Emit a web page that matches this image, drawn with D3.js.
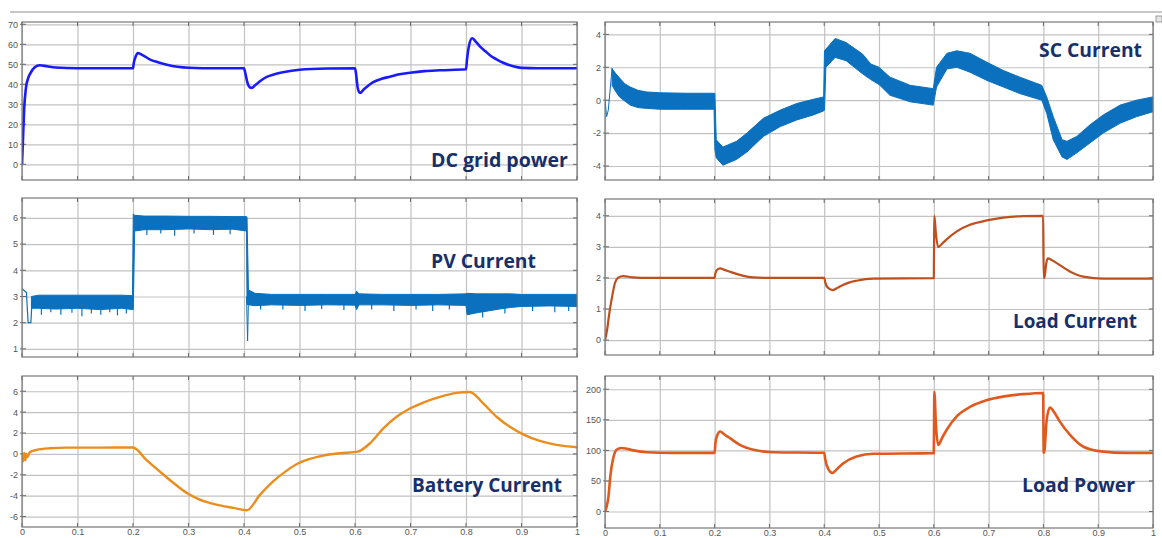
<!DOCTYPE html>
<html>
<head>
<meta charset="utf-8">
<script src="https://cdn.jsdelivr.net/npm/d3@7"></script>
<style>
  body { margin: 0; background: #fff; }
  svg { display: block; }
  .tick text { font-family: "Liberation Sans", Arial, sans-serif; font-size: 9px; fill: #555; }
  .title { font-family: "Open Sans", "Noto Sans", sans-serif; font-weight: 700; fill: #17306b; }
</style>
</head>
<body>
<svg width="1162" height="538"></svg>
<script>
// ---- data: [time, value] or [time, low, high] ----
const xTicks = [0, 0.1, 0.2, 0.3, 0.4, 0.5, 0.6, 0.7, 0.8, 0.9, 1];

const dcTicks = [0, 10, 20, 30, 40, 50, 60, 70];
const scTicks = [-4, -2, 0, 2, 4];
const pvTicks = [1, 2, 3, 4, 5, 6];
const loadCurTicks = [0, 1, 2, 3, 4];
const batTicks = [-6, -4, -2, 0, 2, 4, 6];
const loadPowTicks = [0, 50, 100, 150, 200];

const dcGridPower = [[0,0],[0.002,14],[0.004,28],[0.007,38],[0.011,43],[0.015,45.5],[0.023,48.5],[0.032,49.5],
  [0.045,49],[0.06,48.4],[0.1,48],[0.2,48],[0.201,50],[0.205,54],[0.209,55.6],[0.218,54.5],[0.23,52.5],
  [0.245,51],[0.261,49.8],[0.28,48.8],[0.3,48.3],[0.35,48],[0.4,48],[0.402,46],[0.406,41],[0.41,38.6],
  [0.414,38.2],[0.42,39.5],[0.43,41.8],[0.441,43.7],[0.455,45],[0.47,46],[0.5,47.3],[0.55,47.9],[0.6,48],
  [0.602,45],[0.605,38],[0.609,35.7],[0.616,37.5],[0.632,41],[0.648,42.8],[0.663,43.8],[0.68,45],[0.699,45.8],
  [0.725,46.6],[0.753,47],[0.8,47.5],[0.802,53],[0.806,60],[0.811,63],[0.817,61.5],[0.825,59],[0.835,56.5],
  [0.843,54.5],[0.855,52.5],[0.867,50.8],[0.885,49],[0.9,48.2],[0.93,48],[1,48]];

const scStart = [[0,0],[0.003,-1.0],[0.006,-0.6],[0.013,1.95],[0.016,1.4]];
const scBand = [[0.013,0.9,1.9],[0.02,0.5,1.6],[0.027,0.18,1.33],[0.036,-0.05,1.0],[0.046,-0.3,0.8],
  [0.06,-0.45,0.6],[0.076,-0.5,0.5],[0.1,-0.55,0.45],[0.15,-0.55,0.42],[0.199,-0.55,0.42],
  [0.2005,-3.0,0.4],[0.203,-3.5,-2.4],[0.215,-3.95,-2.85],[0.24,-3.6,-2.5],[0.259,-3.15,-2.0],
  [0.289,-2.2,-1.1],[0.32,-1.6,-0.6],[0.35,-1.2,-0.2],[0.38,-0.9,0.05],[0.399,-0.65,0.2],
  [0.4005,-0.6,3.0],[0.403,2.0,3.1],[0.42,2.6,3.75],[0.44,2.4,3.5],[0.47,1.6,2.8],[0.485,1.25,2.2],
  [0.5,0.95,2.0],[0.52,0.3,1.4],[0.557,-0.1,0.9],[0.599,-0.3,0.7],[0.605,0.8,2.0],[0.624,1.9,2.85],
  [0.642,2.0,3.0],[0.666,1.7,2.85],[0.697,1.2,2.3],[0.727,0.8,1.8],[0.757,0.4,1.4],[0.797,0.0,0.9],
  [0.806,-0.8,0.2],[0.818,-2.4,-1.0],[0.834,-3.45,-2.4],[0.843,-3.6,-2.5],[0.861,-3.2,-2.2],
  [0.885,-2.6,-1.5],[0.909,-2.0,-0.9],[0.94,-1.4,-0.3],[0.97,-1.0,0.0],[1.0,-0.7,0.2]];

const pvStart = [[0,3.3],[0.008,3.15],[0.011,2.0],[0.016,2.0],[0.018,2.8]];
const pvDrop = [[0.4045,3.0],[0.4065,1.3],[0.408,2.9]];
const pvBand = [[0.017,2.55,3.0],[0.03,2.55,3.05],[0.06,2.52,3.05],[0.1,2.55,3.05],[0.14,2.5,3.05],
  [0.18,2.55,3.05],[0.199,2.5,3.03],
  [0.2005,2.5,6.15],[0.203,5.5,6.1],[0.22,5.55,6.07],[0.26,5.55,6.07],[0.3,5.58,6.06],[0.34,5.55,6.06],
  [0.38,5.57,6.05],[0.4045,5.5,6.05],
  [0.4055,2.7,6.0],[0.408,2.68,3.25],[0.42,2.65,3.12],[0.45,2.68,3.08],[0.5,2.66,3.08],[0.55,2.68,3.08],
  [0.6,2.67,3.08],[0.603,2.5,3.2],[0.607,2.68,3.1],[0.65,2.68,3.08],[0.7,2.66,3.08],[0.75,2.68,3.08],
  [0.8,2.66,3.1],[0.802,2.3,3.12],[0.82,2.38,3.1],[0.84,2.45,3.1],[0.86,2.52,3.1],[0.88,2.58,3.1],
  [0.9,2.62,3.08],[0.95,2.64,3.08],[1.0,2.62,3.08]];
const pvSpikes = [[0.035,2.3],[0.052,2.4],[0.07,2.3],[0.09,2.38],[0.108,2.25],[0.125,2.35],[0.142,2.3],
  [0.158,2.4],[0.172,2.28],[0.188,2.35],[0.225,5.35],[0.25,5.4],[0.275,5.32],[0.31,5.4],[0.345,5.35],
  [0.375,5.38],[0.43,2.5],[0.47,2.5],[0.51,2.45],[0.54,2.52],[0.58,2.48],[0.63,2.5],[0.67,2.45],
  [0.71,2.5],[0.74,2.45],[0.77,2.5],[0.83,2.2],[0.87,2.35],[0.92,2.45],[0.96,2.4],[0.985,2.45]];

const loadCurrent = [[0,0],[0.004,0.35],[0.007,0.75],[0.01,1.1],[0.013,1.4],[0.018,1.83],[0.024,2.01],
  [0.033,2.06],[0.051,2.02],[0.08,2.0],[0.2,2.0],[0.2015,2.15],[0.205,2.27],[0.21,2.31],[0.218,2.26],
  [0.228,2.2],[0.246,2.1],[0.27,2.02],[0.3,2.0],[0.4,2.0],[0.402,1.85],[0.407,1.68],[0.416,1.61],
  [0.424,1.68],[0.434,1.77],[0.445,1.85],[0.459,1.91],[0.489,1.98],[0.6,1.99],[0.6005,3.2],[0.601,4.0],
  [0.604,3.4],[0.608,2.99],[0.615,3.1],[0.624,3.25],[0.642,3.5],[0.666,3.71],[0.697,3.85],[0.727,3.94],
  [0.764,3.99],[0.7995,4.0],[0.8005,2.0],[0.802,2.0],[0.805,2.45],[0.808,2.63],[0.815,2.58],[0.825,2.47],
  [0.849,2.2],[0.873,2.04],[0.909,1.98],[1,1.98]];

const batteryCurrent = [[0,0],[0.002,-0.7],[0.004,0.1],[0.006,-0.6],[0.008,0.0],[0.01,-0.3],[0.014,0.16],
  [0.026,0.38],[0.05,0.54],[0.08,0.6],[0.14,0.6],[0.2,0.62],[0.224,-0.57],[0.248,-1.68],[0.273,-2.79],
  [0.297,-3.75],[0.32,-4.38],[0.35,-4.86],[0.381,-5.17],[0.405,-5.4],[0.429,-3.9],[0.453,-2.6],
  [0.477,-1.6],[0.498,-0.9],[0.513,-0.57],[0.543,-0.16],[0.573,0.06],[0.605,0.22],[0.627,1.02],
  [0.651,2.45],[0.675,3.56],[0.699,4.35],[0.723,4.92],[0.753,5.46],[0.783,5.84],[0.807,5.93],
  [0.831,4.83],[0.855,3.56],[0.879,2.6],[0.903,1.87],[0.933,1.24],[0.963,0.86],[1,0.64]];

const loadPower = [[0,0],[0.003,8],[0.006,22],[0.01,60],[0.015,87],[0.021,101],[0.03,104],[0.04,102.5],
  [0.052,100],[0.076,97],[0.12,96],[0.2,96],[0.2015,112],[0.205,125],[0.21,131],[0.218,126],[0.228,120],
  [0.246,109],[0.271,101],[0.307,97],[0.4,96],[0.402,85],[0.407,70],[0.415,63],[0.424,70],[0.435,79],
  [0.459,90],[0.49,94.5],[0.6,95.5],[0.6005,150],[0.601,196],[0.604,140],[0.608,109],[0.615,120],
  [0.623,133],[0.641,155],[0.666,171],[0.696,182],[0.726,188],[0.763,192],[0.7995,194],[0.8005,96],
  [0.802,100],[0.806,150],[0.812,170],[0.82,162],[0.83,147],[0.849,125],[0.873,106],[0.909,98],
  [0.95,96],[1,96]];

// ---- layout ----
const svg = d3.select("svg");

svg.append("line")
  .attr("x1", 10).attr("x2", 1162).attr("y1", 12).attr("y2", 12)
  .attr("stroke", "#c8c8c8").attr("stroke-width", 2);

const panels = [
  { id: "dc",  x0: 22,  x1: 577,  y0: 22,  y1: 180, dom: [-7.85, 71.15], ticks: dcTicks,
    title: "DC grid power", tx: 431, ty: 166.5, tw: 137 },
  { id: "sc",  x0: 605, x1: 1153, y0: 22,  y1: 180, dom: [-4.85, 4.75], ticks: scTicks,
    title: "SC Current", tx: 1039, ty: 57, tw: 103 },
  { id: "pv",  x0: 22,  x1: 577,  y0: 198, y1: 357, dom: [0.69, 6.76], ticks: pvTicks,
    title: "PV Current", tx: 431, ty: 267.5, tw: 105 },
  { id: "lc",  x0: 605, x1: 1153, y0: 199, y1: 355, dom: [-0.48, 4.54], ticks: loadCurTicks,
    title: "Load Current", tx: 1013, ty: 327.5, tw: 124 },
  { id: "bat", x0: 22,  x1: 577,  y0: 376, y1: 527, dom: [-7.0, 7.46], ticks: batTicks,
    title: "Battery Current", tx: 412, ty: 492, tw: 150, xlabels: true },
  { id: "lp",  x0: 605, x1: 1153, y0: 376, y1: 528, dom: [-27, 221.7], ticks: loadPowTicks,
    title: "Load Power", tx: 1022, ty: 492, tw: 113, xlabels: true }
];

const scales = {};

panels.forEach(p => {
  const x = d3.scaleLinear().domain([0, 1]).range([p.x0, p.x1]);
  const y = d3.scaleLinear().domain(p.dom).range([p.y1, p.y0]);
  scales[p.id] = { x, y, p };

  const g = svg.append("g");
  g.append("rect")
    .attr("x", p.x0).attr("y", p.y0)
    .attr("width", p.x1 - p.x0).attr("height", p.y1 - p.y0)
    .attr("fill", "#fff");

  // grid lines + y labels
  const gy = g.append("g")
    .attr("transform", `translate(${p.x0},0)`)
    .call(d3.axisLeft(y).tickValues(p.ticks).tickSize(-(p.x1 - p.x0)).tickPadding(4)
      .tickFormat(d => String(d)));
  gy.select(".domain").remove();
  gy.selectAll("line").attr("stroke", "#c2c2c2").attr("stroke-width", 1.2);

  // grid lines + x labels (bottom row only); labels sit in the last strip of the page
  const gx = g.append("g")
    .attr("transform", `translate(0,${p.y1})`)
    .call(d3.axisBottom(x).tickValues(xTicks).tickSize(-(p.y1 - p.y0)).tickPadding(2)
      .tickFormat(d => p.xlabels ? String(d) : ""));
  gx.select(".domain").remove();
  gx.selectAll("line").attr("stroke", "#c2c2c2").attr("stroke-width", 1.2);
  gx.selectAll("text").attr("font-size", 8.5);

  // short dark tick marks on all four sides
  const tk = g.append("g").attr("stroke", "#6a6a6a").attr("stroke-width", 1);
  tk.selectAll(".tl").data(p.ticks).join("line")
    .attr("x1", p.x0 - 2).attr("x2", p.x0 + 4)
    .attr("y1", d => y(d)).attr("y2", d => y(d));
  tk.selectAll(".tr").data(p.ticks).join("line")
    .attr("x1", p.x1 - 4).attr("x2", p.x1)
    .attr("y1", d => y(d)).attr("y2", d => y(d));
  tk.selectAll(".tt").data(xTicks).join("line")
    .attr("x1", d => x(d)).attr("x2", d => x(d))
    .attr("y1", p.y0).attr("y2", p.y0 + 4);
  tk.selectAll(".tb").data(xTicks).join("line")
    .attr("x1", d => x(d)).attr("x2", d => x(d))
    .attr("y1", p.y1 - 4).attr("y2", p.y1);

  svg.append("clipPath").attr("id", "clip-" + p.id)
    .append("rect")
    .attr("x", p.x0).attr("y", p.y0)
    .attr("width", p.x1 - p.x0).attr("height", p.y1 - p.y0);

  scales[p.id].plot = svg.append("g").attr("clip-path", `url(#clip-${p.id})`);
});

function drawLine(id, data, color, width, curve) {
  const s = scales[id];
  s.plot.append("path")
    .datum(data)
    .attr("fill", "none")
    .attr("stroke", color)
    .attr("stroke-width", width)
    .attr("stroke-linejoin", "round")
    .attr("d", d3.line().x(d => s.x(d[0])).y(d => s.y(d[1])).curve(curve || d3.curveMonotoneX));
}

function drawBand(id, data, color) {
  const s = scales[id];
  s.plot.append("path")
    .datum(data)
    .attr("fill", color)
    .attr("stroke", color)
    .attr("stroke-width", 1)
    .attr("d", d3.area().x(d => s.x(d[0])).y0(d => s.y(d[1])).y1(d => s.y(d[2])));
}

function drawSpikes(id, data, color) {
  const s = scales[id];
  s.plot.append("g").attr("stroke", color).attr("stroke-width", 1.2)
    .selectAll("line").data(data).join("line")
    .attr("x1", d => s.x(d[0])).attr("x2", d => s.x(d[0]))
    .attr("y1", d => s.y(d[1] + 0.3)).attr("y2", d => s.y(d[1]));
}

drawLine("dc", dcGridPower, "#1a1aff", 2.6);

drawBand("sc", scBand, "#0b70bd");
drawLine("sc", scStart, "#0b70bd", 1, d3.curveLinear);

drawBand("pv", pvBand, "#0b70bd");
drawSpikes("pv", pvSpikes, "#0b70bd");
drawLine("pv", pvStart, "#0b70bd", 1.2, d3.curveLinear);
drawLine("pv", pvDrop, "#0b70bd", 1, d3.curveLinear);

drawLine("lc", loadCurrent, "#bf4f1c", 2.2);
drawLine("bat", batteryCurrent, "#ea8d1c", 2.4);
drawLine("lp", loadPower, "#e05a1e", 2.6);

// frames and titles on top
panels.forEach(p => {
  svg.append("rect")
    .attr("x", p.x0).attr("y", p.y0)
    .attr("width", p.x1 - p.x0).attr("height", p.y1 - p.y0)
    .attr("fill", "none").attr("stroke", "#777").attr("stroke-width", 1.2);

  svg.append("text")
    .attr("class", "title")
    .attr("x", p.tx).attr("y", p.ty)
    .attr("font-size", 20)
    .attr("textLength", p.tw)
    .attr("lengthAdjust", "spacingAndGlyphs")
    .text(p.title);
});

// little scope button at the top right corner
svg.append("rect")
  .attr("x", 1156).attr("y", 16).attr("width", 6).attr("height", 6)
  .attr("fill", "#e6e6e6").attr("stroke", "#888").attr("stroke-width", 0.8);
</script>
</body>
</html>
